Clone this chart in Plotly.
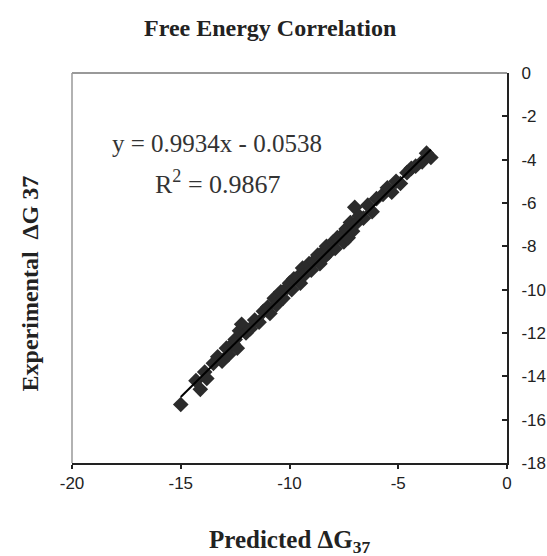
import plotly.graph_objects as go

# predicted vs experimental free energies (kcal/mol)
predicted = [-15.0, -14.3, -14.1, -13.9, -13.8, -13.5, -13.3, -13.1, -12.9, -12.8,
             -12.6, -12.5, -12.4, -12.3, -12.2, -12.0, -11.8, -11.6, -11.4, -11.2,
             -11.0, -10.9, -10.7, -10.6, -10.4, -10.3, -10.1, -10.0, -9.9, -9.8,
             -9.6, -9.5, -9.4, -9.3, -9.1, -9.0, -8.9, -8.7, -8.6, -8.5,
             -8.4, -8.3, -8.2, -8.0, -7.9, -7.8, -7.6, -7.5, -7.4, -7.3,
             -7.2, -7.1, -7.0, -6.9, -6.8, -6.6, -6.4, -6.2, -6.0, -5.7,
             -5.5, -5.3, -5.1, -4.9, -4.6, -4.4, -4.2, -3.9, -3.7, -3.5]
experimental = [-15.3, -14.2, -14.6, -13.8, -14.1, -13.4, -13.1, -13.3, -12.7, -13.0,
                -12.5, -12.3, -12.7, -11.9, -11.6, -12.0, -11.8, -11.4, -11.5, -11.0,
                -10.8, -11.1, -10.4, -10.7, -10.1, -10.4, -9.9, -9.7, -10.0, -9.5,
                -9.4, -9.7, -9.0, -9.3, -8.8, -9.1, -8.7, -8.4, -8.8, -8.3,
                -8.5, -8.0, -8.3, -7.8, -8.1, -7.6, -7.5, -7.8, -7.2, -7.6,
                -6.9, -7.3, -6.2, -6.9, -6.6, -6.7, -6.1, -6.4, -5.8, -5.6,
                -5.3, -5.5, -5.0, -5.1, -4.6, -4.4, -4.3, -4.1, -3.7, -3.9]

slope = 0.9934
intercept = -0.0538
fit_x = [min(predicted), max(predicted)]
fit_y = [slope * v + intercept for v in fit_x]

x_ticks = [-20, -15, -10, -5, 0]
x_ticktext = ["-20", "-15", "-10", "-5", "0"]
y_ticks = [0, -2, -4, -6, -8, -10, -12, -14, -16, -18]
y_ticktext = ["0", "-2", "-4", "-6", "-8", "-10", "-12", "-14", "-16", "-18"]

serif = "Liberation Serif, Times New Roman, serif"
sans = "Liberation Sans, Arial, sans-serif"

fig = go.Figure()
fig.add_trace(go.Scatter(
    x=predicted, y=experimental, mode="markers",
    marker=dict(symbol="diamond", size=12, color="#2b2b2b", line=dict(width=0)),
    showlegend=False
))
fig.add_trace(go.Scatter(
    x=fit_x, y=fit_y, mode="lines",
    line=dict(color="black", width=2),
    showlegend=False
))

fig.update_layout(
    width=547, height=556,
    margin=dict(l=72, r=40, t=73, b=93),
    paper_bgcolor="white", plot_bgcolor="white",
    xaxis=dict(range=[-20, 0], tickvals=x_ticks, ticktext=x_ticktext,
               ticks="outside", ticklen=4, tickwidth=2, tickcolor="#222",
               showline=True, linecolor="#222", linewidth=2,
               showgrid=False, zeroline=False, automargin=False,
               tickfont=dict(family=sans, size=17, color="#222")),
    yaxis=dict(range=[-18, 0], side="right", tickvals=y_ticks, ticktext=y_ticktext,
               ticks="inside", ticklen=5, tickwidth=2, tickcolor="#222",
               showline=True, linecolor="#222", linewidth=2,
               showgrid=False, zeroline=False, ticklabelstandoff=9, automargin=False,
               tickfont=dict(family=sans, size=17, color="#222")),
    shapes=[
        dict(type="line", xref="paper", yref="paper", x0=0, x1=1, y0=1, y1=1,
             line=dict(color="#777", width=1.5)),
        dict(type="line", xref="paper", yref="paper", x0=0, x1=0, y0=0, y1=1,
             line=dict(color="#999", width=1.5)),
    ],
    annotations=[
        dict(text="<b>Free Energy Correlation</b>", xref="paper", yref="paper",
             x=0.456, y=1.115, showarrow=False, xanchor="center", yanchor="middle",
             font=dict(family=serif, size=24, color="#222")),
        dict(text="<b>Predicted ΔG<sub>37</sub></b>", xref="paper", yref="paper",
             x=0.5, y=-0.2, showarrow=False, xanchor="center", yanchor="middle",
             font=dict(family=serif, size=25, color="#222")),
        dict(text="<b>Experimental  ΔG 37</b>", xref="paper", yref="paper",
             x=-0.097, y=0.46, textangle=-90, showarrow=False,
             xanchor="center", yanchor="middle",
             font=dict(family=serif, size=24, color="#222")),
        dict(text="y = 0.9934x - 0.0538", xref="paper", yref="paper",
             x=0.334, y=0.82, showarrow=False, xanchor="center", yanchor="middle",
             font=dict(family=serif, size=25, color="#333")),
        dict(text="R<sup>2</sup> = 0.9867", xref="paper", yref="paper",
             x=0.336, y=0.72, showarrow=False, xanchor="center", yanchor="middle",
             font=dict(family=serif, size=26, color="#333")),
    ],
)

# drop the page's default body margin so the figure sits at the window origin
fig.write_html("out.html", config={"displayModeBar": False},
               post_script="document.body.style.margin='0';document.body.style.overflow='hidden';")
